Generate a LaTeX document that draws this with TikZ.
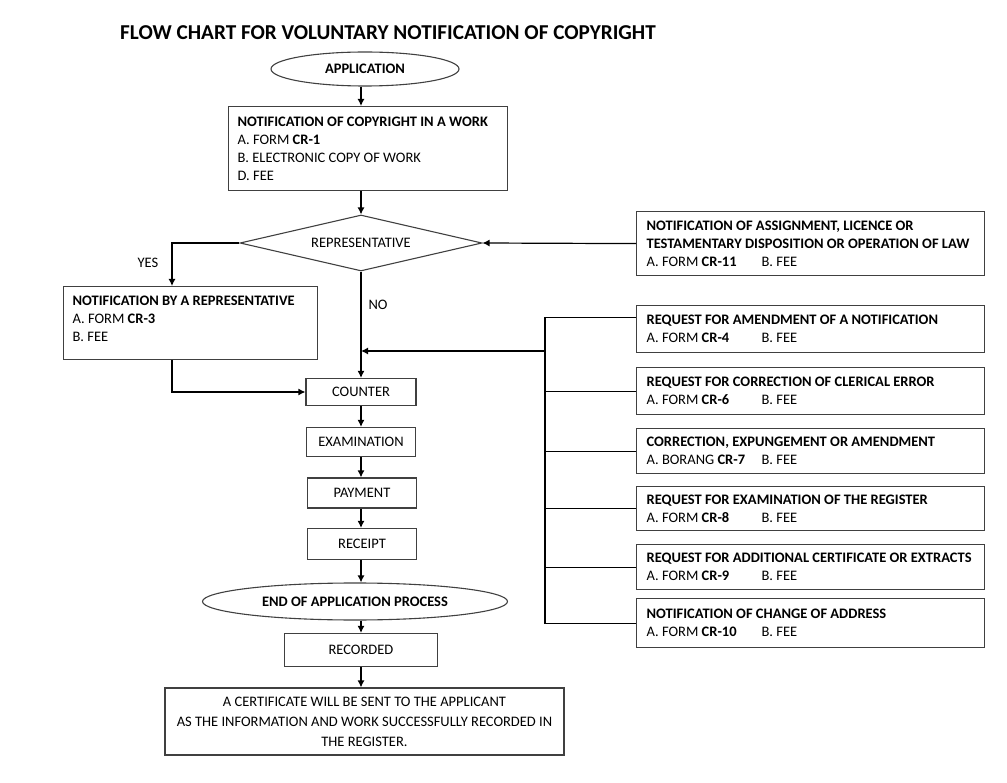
\documentclass[tikz,border=0pt]{standalone}
\usepackage{fontspec}
\setmainfont{Carlito}
\usetikzlibrary{shapes.geometric,arrows.meta}
\newcommand{\formfee}[2]{\makebox[115pt][l]{A. #1 \textbf{#2}}B. FEE}

\begin{document}
\begin{tikzpicture}[x=1pt,y=-1pt,
  font=\fontsize{14.5}{18}\selectfont,
  box/.style={draw=black!75,line width=1.2pt,rectangle,inner xsep=9pt,inner ysep=0pt},
  leftbox/.style={box,anchor=north west,align=flush left},
  side/.style={leftbox,text width=328pt,inner xsep=10pt},
  term/.style={draw=black!75,line width=1.1pt,ellipse,inner sep=0pt,font=\fontsize{14.5}{18}\selectfont\bfseries},
  decide/.style={draw=black!75,line width=1.1pt,diamond,aspect=4.3,inner sep=0pt},
  arr/.style={line width=1.2pt,-{Latex[length=7pt,width=7pt]}},
  wire/.style={line width=1.1pt}]
  \useasboundingbox (0,0) rectangle (1007,783);
  % title
  \node[font=\fontsize{21.2}{25}\selectfont\bfseries] (title) at (388,33) {FLOW CHART FOR VOLUNTARY NOTIFICATION OF COPYRIGHT};
  % main column
  \node[term,minimum width=188pt,minimum height=34pt] (app) at (365,69) {APPLICATION};
  \node[leftbox,text width=261pt,minimum height=84pt] (work) at (228,106) {\textbf{NOTIFICATION OF COPYRIGHT IN A WORK}\\A. FORM \textbf{CR-1}\\B. ELECTRONIC COPY OF WORK\\D. FEE};
  \node[decide,minimum width=242pt,minimum height=56pt] (rep) at (361,243) {REPRESENTATIVE};
  \node[leftbox,text width=236pt,minimum height=73pt] (agent) at (63,286) {\textbf{NOTIFICATION BY A REPRESENTATIVE}\\A. FORM \textbf{CR-3}\\B. FEE\\[-9pt]\mbox{}};
  \node[box,minimum width=110pt,minimum height=27pt] (counter) at (361,392) {COUNTER};
  \node[box,minimum width=109pt,minimum height=29pt] (exam) at (361,442) {EXAMINATION};
  \node[box,minimum width=109pt,minimum height=30pt] (pay) at (362,493) {PAYMENT};
  \node[box,minimum width=109pt,minimum height=31pt] (receipt) at (362,544) {RECEIPT};
  \node[term,minimum width=305pt,minimum height=37pt] (finish) at (355,601.5) {END OF APPLICATION PROCESS};
  \node[box,minimum width=399pt,minimum height=67pt,align=center,font=\fontsize{14.5}{20}\selectfont] (cert) at (364.5,721.5) {A CERTIFICATE WILL BE SENT TO THE APPLICANT\\AS THE INFORMATION AND WORK SUCCESSFULLY RECORDED IN\\THE REGISTER.};
  \node[box,minimum width=153pt,minimum height=33pt] (recorded) at (361,650) {RECORDED};
  % right column
  \node[side,minimum height=64pt] (assign) at (636,211) {\textbf{NOTIFICATION OF ASSIGNMENT, LICENCE OR}\\\textbf{TESTAMENTARY DISPOSITION OR OPERATION OF LAW}\\\formfee{FORM}{CR-11}};
  \node[side,minimum height=47pt] (cr4) at (636,305) {\textbf{REQUEST FOR AMENDMENT OF A NOTIFICATION}\\\formfee{FORM}{CR-4}};
  \node[side,minimum height=47pt] (cr6) at (636,367) {\textbf{REQUEST FOR CORRECTION OF CLERICAL ERROR}\\\formfee{FORM}{CR-6}};
  \node[side,minimum height=45pt] (cr7) at (636,428) {\textbf{CORRECTION, EXPUNGEMENT OR AMENDMENT}\\\formfee{BORANG}{CR-7}};
  \node[side,minimum height=44pt] (cr8) at (636,486) {\textbf{REQUEST FOR EXAMINATION OF THE REGISTER}\\\formfee{FORM}{CR-8}};
  \node[side,minimum height=45pt] (cr9) at (636,544) {\textbf{REQUEST FOR ADDITIONAL CERTIFICATE OR EXTRACTS}\\\formfee{FORM}{CR-9}};
  \node[side,minimum height=49pt] (cr10) at (636,598) {\textbf{NOTIFICATION OF CHANGE OF ADDRESS}\\\formfee{FORM}{CR-10}};
  % connectors
  \coordinate (spine) at (361,0);
  \coordinate (yes) at (172,243);
  \coordinate (bus) at (545,351);
  \draw[arr] (spine |- app.south) -- (spine |- work.north);
  \draw[arr] (spine |- work.south) -- (rep.north);
  \draw[arr] (rep.west) -| (yes |- agent.north);
  \node (yeslbl) at (148,263) {YES};
  \draw[arr] (rep.south) -- (counter.north);
  \node (nolbl) at (378,305) {NO};
  \draw[arr] (yes |- agent.south) |- (counter.west);
  \draw[arr] (assign.west) -- (rep.east);
  \draw[wire] ([yshift=12pt]cr4.west) -| (bus |- cr10.west) -- (cr10.west);
  \foreach \n in {cr6,cr7,cr8,cr9}
    \draw[wire] (\n.west) -- (bus |- \n.west);
  \draw[arr] (bus) -- (spine |- bus);
  \foreach \a/\b in {counter/exam,exam/pay,pay/receipt,receipt/finish,finish/recorded,recorded/cert}
    \draw[arr] (spine |- \a.south) -- (spine |- \b.north);
\end{tikzpicture}
\end{document}
